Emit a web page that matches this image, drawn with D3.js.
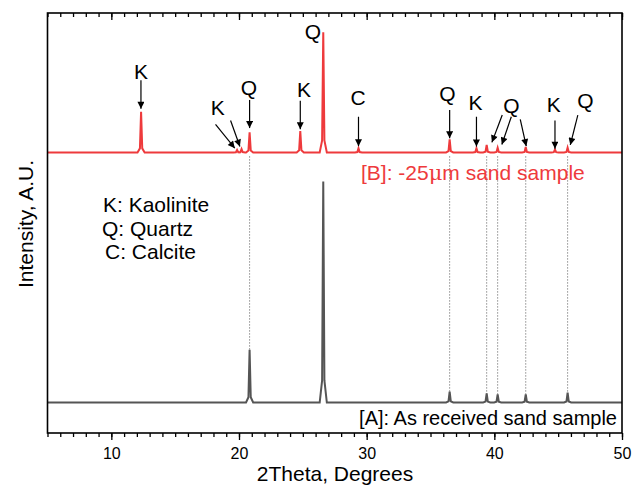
<!DOCTYPE html>
<html>
<head>
<meta charset="utf-8">
<script src="https://cdn.jsdelivr.net/npm/d3@7"></script>
<style>
  body { margin: 0; background: #fff; }
  text { font-family: "Liberation Sans", Arial, sans-serif; }
</style>
</head>
<body>
<script>
// Width and height
var w = 642;
var h = 490;
var padLeft = 47.5, padRight = 622, padTop = 13, padBottom = 433;

// peak positions (2Theta) and apex intensities
var redBase = 66.8;
var redPeakPos = [12.33, 19.85, 20.2, 20.83, 24.8, 26.6, 29.36, 36.5, 38.6, 39.4, 40.26, 42.46, 44.75, 45.74];
var redPeakTop = [76.5, 67.4, 67.6, 71.6, 71.9, 95.4, 67.8, 69.9, 67.8, 68.6, 67.9, 68.1, 67.5, 67.95];

var greyBase = 7.26;
var greyPeakPos = [20.83, 26.6, 36.5, 39.4, 40.26, 42.46, 45.74];
var greyPeakTop = [19.8, 59.9, 9.83, 9.45, 9.2, 9.2, 9.6];

// peak labels: text, x (deg), baseline (intensity)
var labelText = ["K", "K", "Q", "K", "Q", "C", "Q", "K", "Q", "K", "Q"];
var labelX = [12.32, 18.34, 20.77, 25.1, 25.8, 29.32, 36.32, 38.53, 41.33, 44.66, 47.14];
var labelY = [84.3, 75.7, 80.5, 80.1, 93.9, 78.1, 79.0, 76.9, 76.2, 76.4, 77.4];

// arrows: from (x1,y1) to tip (x2,y2)
var arrowX1 = [12.32, 18.16, 19.34, 20.83, 24.8, 29.36, 36.5, 38.6, 40.62, 41.33, 42.03, 44.75, 46.54];
var arrowY1 = [84.0, 73.5, 74.4, 79.3, 79.1, 75.3, 76.9, 75.3, 75.7, 75.3, 74.7, 74.4, 75.7];
var arrowX2 = [12.32, 19.67, 20.07, 20.83, 24.8, 29.36, 36.5, 38.6, 39.81, 40.59, 42.5, 44.75, 45.95];
var arrowY2 = [77.2, 67.8, 68.2, 72.6, 72.3, 68.3, 70.2, 68.2, 69.2, 68.7, 68.3, 67.7, 68.6];

// dotted guide lines matching quartz peaks
var guidePos = [20.83, 36.5, 39.4, 40.26, 42.46, 45.74];

var legendLines = ["K: Kaolinite", "Q: Quartz", "C: Calcite"];
var majorTicks = [10, 20, 30, 40, 50];

// scales
var xScale = d3.scaleLinear().domain([5, 50]).range([padLeft, padRight]);
var yScale = d3.scaleLinear().domain([0, 100]).range([padBottom, padTop]);

var svg = d3.select("body").append("svg")
    .attr("width", w)
    .attr("height", h);

svg.append("defs").append("marker")
    .attr("id", "arr")
    .attr("viewBox", "0 0 10 10")
    .attr("refX", 10).attr("refY", 5)
    .attr("markerWidth", 8).attr("markerHeight", 7)
    .attr("markerUnits", "userSpaceOnUse")
    .attr("orient", "auto")
    .append("path")
    .attr("d", "M0,0 L10,5 L0,10 Z")
    .attr("fill", "#000");

// build pattern from peaks
var shapeDx = [-0.28, -0.09, 0, 0.09, 0.28];
var shapeFrac = [0, 0.1, 1, 0.1, 0];
function pattern(base, pos, tops) {
  var pts = [[5, base]];
  pos.forEach(function(p, i) {
    shapeDx.forEach(function(dx, j) {
      pts.push([p + dx, base + shapeFrac[j] * (tops[i] - base)]);
    });
  });
  pts.push([50, base]);
  return pts;
}

var line = d3.line()
    .x(function(d) { return xScale(d[0]); })
    .y(function(d) { return yScale(d[1]); });

// dotted guides
svg.selectAll(".guide")
   .data(guidePos)
   .enter()
   .append("line")
   .attr("x1", function(d) { return xScale(d); })
   .attr("x2", function(d) { return xScale(d); })
   .attr("y1", yScale(redBase) + 4)
   .attr("y2", function(d) {
      var k = greyPeakPos.indexOf(d);
      return yScale(greyPeakTop[k]) + 2;
   })
   .attr("stroke", "#555")
   .attr("stroke-width", 1)
   .attr("stroke-dasharray", "1,2");

svg.append("path")
   .datum(pattern(greyBase, greyPeakPos, greyPeakTop))
   .attr("d", line)
   .attr("fill", "none")
   .attr("stroke", "#555555")
   .attr("stroke-width", 2);

svg.append("path")
   .datum(pattern(redBase, redPeakPos, redPeakTop))
   .attr("d", line)
   .attr("fill", "none")
   .attr("stroke", "#ee3a3c")
   .attr("stroke-width", 2);

// arrows
svg.selectAll(".arrow")
   .data(arrowX1)
   .enter()
   .append("line")
   .attr("x1", function(d) { return xScale(d); })
   .attr("y1", function(d, i) { return yScale(arrowY1[i]); })
   .attr("x2", function(d, i) { return xScale(arrowX2[i]); })
   .attr("y2", function(d, i) { return yScale(arrowY2[i]); })
   .attr("stroke", "#000")
   .attr("stroke-width", 1.2)
   .attr("marker-end", "url(#arr)");

svg.selectAll(".plabel")
   .data(labelText)
   .enter()
   .append("text")
   .attr("x", function(d, i) { return xScale(labelX[i]); })
   .attr("y", function(d, i) { return yScale(labelY[i]); })
   .attr("text-anchor", "middle")
   .attr("font-size", 21)
   .text(function(d) { return d; });

// sample captions
var capB = svg.append("text")
   .attr("x", 361).attr("y", 180)
   .attr("font-size", 21)
   .attr("fill", "#ee3a3c");
capB.append("tspan").text("[B]: -25");
capB.append("tspan").attr("font-family", "'DejaVu Serif', serif").attr("font-size", 21).text("\u03bc");
capB.append("tspan").text("m sand sample");

svg.append("text")
   .attr("x", 617).attr("y", 425)
   .attr("text-anchor", "end")
   .attr("font-size", 20)
   .text("[A]: As received sand sample");

svg.selectAll(".legend")
   .data(legendLines)
   .enter()
   .append("text")
   .attr("x", function(d, i) { return [103, 102, 105][i]; })
   .attr("y", function(d, i) { return 212 + i * 23.5; })
   .attr("font-size", 21)
   .text(function(d) { return d; });

// axes
var minorTicks = d3.range(5, 51, 1);
svg.append("g")
   .attr("transform", "translate(0," + padBottom + ")")
   .call(d3.axisBottom(xScale).tickValues(minorTicks).tickSize(4).tickFormat(""));
svg.append("g")
   .attr("class", "xmajor")
   .attr("transform", "translate(0," + padBottom + ")")
   .call(d3.axisBottom(xScale).tickValues(majorTicks).tickSize(7).tickPadding(8).tickFormat(d3.format("d")));
svg.append("g")
   .attr("transform", "translate(0," + padTop + ")")
   .call(d3.axisTop(xScale).tickValues(minorTicks).tickSize(-4).tickFormat(""));
svg.append("g")
   .attr("transform", "translate(0," + padTop + ")")
   .call(d3.axisTop(xScale).tickValues(majorTicks).tickSize(-7).tickFormat(""));

svg.selectAll(".domain").remove();
svg.selectAll(".tick line").attr("stroke", "#000").attr("stroke-width", 1.3);
svg.selectAll(".xmajor text")
   .attr("font-size", 16)
   .attr("font-family", "'Liberation Sans', Arial, sans-serif")
   .attr("fill", "#000");

svg.append("rect")
   .attr("x", padLeft).attr("y", padTop)
   .attr("width", padRight - padLeft).attr("height", padBottom - padTop)
   .attr("fill", "none")
   .attr("stroke", "#000")
   .attr("stroke-width", 1.6);

svg.append("text")
   .attr("x", 335).attr("y", 481)
   .attr("text-anchor", "middle")
   .attr("font-size", 21)
   .text("2Theta, Degrees");

svg.append("text")
   .attr("transform", "translate(33,224) rotate(-90)")
   .attr("text-anchor", "middle")
   .attr("font-size", 21)
   .text("Intensity, A.U.");
</script>
</body>
</html>
